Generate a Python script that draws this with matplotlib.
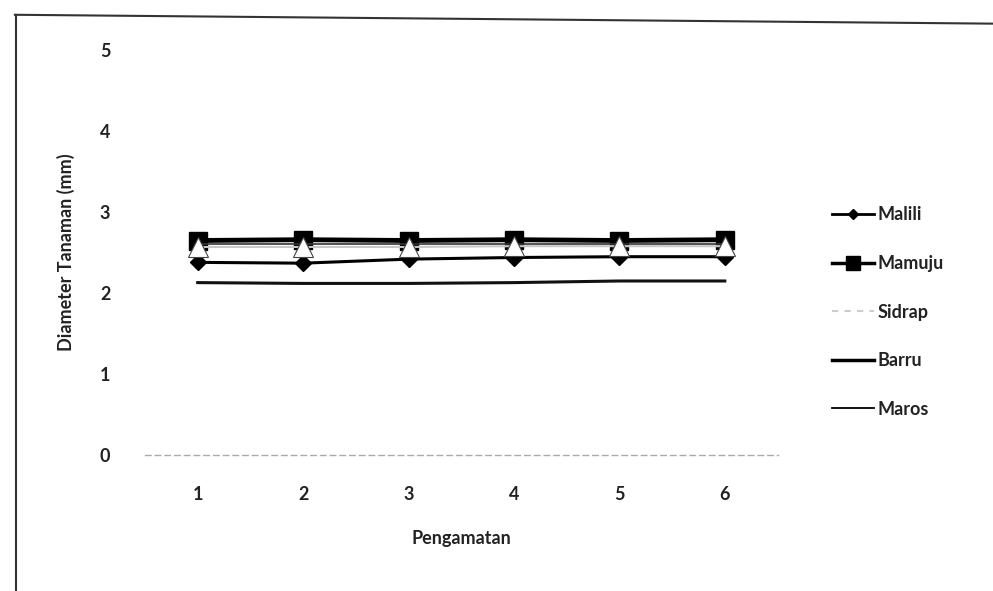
import matplotlib.pyplot as plt
from matplotlib.lines import Line2D

pengamatan = [1, 2, 3, 4, 5, 6]
malili = [2.38, 2.37, 2.42, 2.44, 2.45, 2.45]
mamuju = [2.65, 2.66, 2.65, 2.66, 2.65, 2.66]
sidrap = [2.57, 2.57, 2.57, 2.58, 2.58, 2.58]
barru = [2.13, 2.12, 2.12, 2.13, 2.15, 2.15]
maros = [2.61, 2.61, 2.61, 2.61, 2.61, 2.61]

plt.rcParams['font.family'] = ['Lato', 'DejaVu Sans']
plt.rcParams['font.weight'] = 'bold'

fig = plt.figure(figsize=(9.93, 5.91), dpi=100)
ax = fig.add_axes([0.146, 0.230, 0.637, 0.685])

ax.plot(pengamatan, mamuju, color='black', lw=3.5, marker='s', ms=13, zorder=3)
ax.plot(pengamatan, maros, color='#333333', lw=1.2, zorder=3)
ax.plot(pengamatan, malili, color='black', lw=2.2, marker='D', ms=8, zorder=3)
ax.plot(pengamatan, sidrap, color='#c8c8c8', lw=1.5, marker='^', ms=14,
        mfc='white', mec='#444444', mew=0.8, zorder=4)
ax.plot(pengamatan, barru, color='#111111', lw=2.2, zorder=3)

ax.set_xlim(0.5, 6.5)
ax.set_ylim(0, 5)
ax.set_xticks(pengamatan)
ax.set_yticks([0, 1, 2, 3, 4, 5])
ax.tick_params(length=0, labelsize=13, colors='#222222', pad=22)
ax.tick_params(axis='y', pad=25)
for s in ['top', 'right', 'left']:
    ax.spines[s].set_visible(False)
ax.spines['bottom'].set_color('#aaaaaa')
ax.spines['bottom'].set_linestyle((0, (4, 3)))
ax.spines['bottom'].set_linewidth(1.0)

ax.set_xlabel('Pengamatan', fontsize=13, fontweight='bold', color='#222222', labelpad=20)
ax.set_ylabel('Diameter Tanaman (mm)', fontsize=13, fontweight='bold', color='#222222',
              labelpad=18)

handles = [
    Line2D([], [], color='black', lw=2, marker='D', ms=5),
    Line2D([], [], color='black', lw=2.5, marker='s', ms=10),
    Line2D([], [], color='#cccccc', lw=1.5, ls=(0, (3, 3))),
    Line2D([], [], color='black', lw=2.5),
    Line2D([], [], color='black', lw=1.3),
]
fig.legend(handles, ['Malili', 'Mamuju', 'Sidrap', 'Barru', 'Maros'],
           loc='center left', bbox_to_anchor=(0.822, 0.472), frameon=False,
           fontsize=13, labelspacing=1.75, handlelength=2.3, handletextpad=0.2,
           labelcolor='#222222')

# frame of the scanned chart
fig.add_artist(Line2D([0.015, 1.0], [0.975, 0.96], transform=fig.transFigure,
                      color='#333333', lw=1.5))
fig.add_artist(Line2D([0.016, 0.016], [0.975, 0.0], transform=fig.transFigure,
                      color='#333333', lw=1.5))

fig.savefig('out.png', dpi=100)
